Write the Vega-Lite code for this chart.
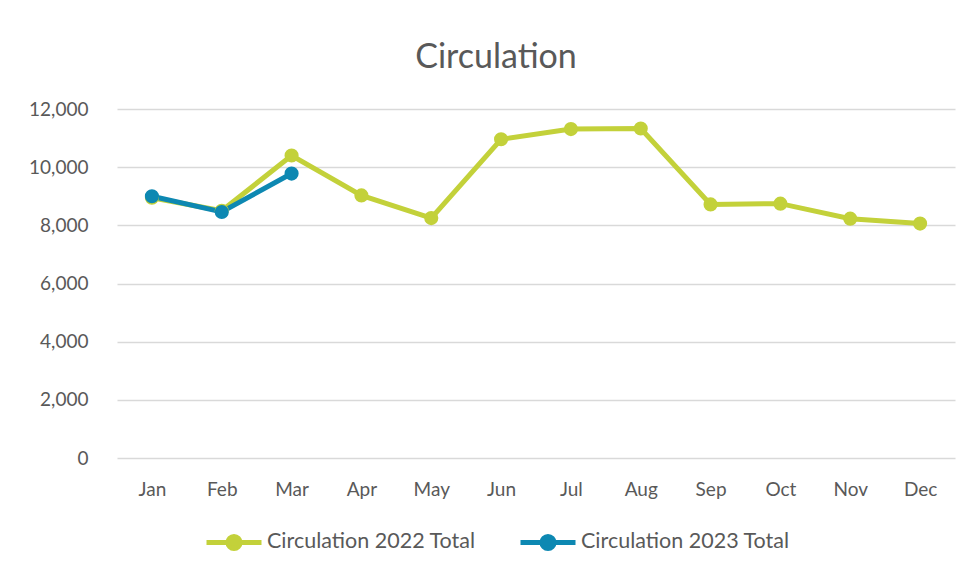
{
  "$schema": "https://vega.github.io/schema/vega-lite/v6.json",
  "width": 838,
  "height": 349,
  "autosize": "none",
  "padding": {"left": 117, "top": 109, "right": 22, "bottom": 116},
  "background": "white",
  "config": {
    "font": "Lato",
    "view": {"stroke": null}
  },
  "title": {
    "text": "Circulation",
    "fontSize": 34,
    "font": "Lato",
    "fontWeight": "normal",
    "color": "#595959",
    "anchor": "middle",
    "dx": -40,
    "offset": -2,
    "baseline": "alphabetic"
  },
  "data": {
    "values": [
      {"month": "Jan", "series": "Circulation 2022 Total", "value": 8950},
      {"month": "Feb", "series": "Circulation 2022 Total", "value": 8500},
      {"month": "Mar", "series": "Circulation 2022 Total", "value": 10400},
      {"month": "Apr", "series": "Circulation 2022 Total", "value": 9030},
      {"month": "May", "series": "Circulation 2022 Total", "value": 8250},
      {"month": "Jun", "series": "Circulation 2022 Total", "value": 10960},
      {"month": "Jul", "series": "Circulation 2022 Total", "value": 11310},
      {"month": "Aug", "series": "Circulation 2022 Total", "value": 11330},
      {"month": "Sep", "series": "Circulation 2022 Total", "value": 8720},
      {"month": "Oct", "series": "Circulation 2022 Total", "value": 8745},
      {"month": "Nov", "series": "Circulation 2022 Total", "value": 8230},
      {"month": "Dec", "series": "Circulation 2022 Total", "value": 8060},
      {"month": "Jan", "series": "Circulation 2023 Total", "value": 9000},
      {"month": "Feb", "series": "Circulation 2023 Total", "value": 8460},
      {"month": "Mar", "series": "Circulation 2023 Total", "value": 9780}
    ]
  },
  "encoding": {
    "x": {
      "field": "month",
      "type": "ordinal",
      "sort": ["Jan","Feb","Mar","Apr","May","Jun","Jul","Aug","Sep","Oct","Nov","Dec"],
      "scale": {"type": "point", "padding": 0.5},
      "axis": {
        "title": null,
        "labelAngle": 0,
        "ticks": false,
        "domain": false,
        "grid": false,
        "labelFontSize": 19,
        "labelColor": "#595959",
        "labelPadding": 22
      }
    },
    "y": {
      "field": "value",
      "type": "quantitative",
      "scale": {"domain": [0, 12000], "nice": false},
      "axis": {
        "title": null,
        "values": [0, 2000, 4000, 6000, 8000, 10000, 12000],
        "format": ",.0f",
        "ticks": false,
        "domain": false,
        "grid": true,
        "gridColor": "#D9D9D9",
        "gridWidth": 1.5,
        "labelFontSize": 19,
        "labelColor": "#595959",
        "labelPadding": 29
      }
    },
    "color": {
      "field": "series",
      "type": "nominal",
      "scale": {
        "domain": ["Circulation 2022 Total", "Circulation 2023 Total"],
        "range": ["#C3D13A", "#0D88B2"]
      },
      "legend": {
        "title": null,
        "orient": "none",
        "direction": "horizontal",
        "legendX": 87,
        "legendY": 403,
        "symbolType": "M-1,0L1,0M0.22,0A0.22,0.22 0 1,1 -0.22,0A0.22,0.22 0 1,1 0.22,0Z",
        "symbolSize": 3025,
        "symbolStrokeWidth": 5,
        "labelFontSize": 21.5,
        "labelLimit": 400,
        "labelColor": "#595959",
        "labelOffset": 3,
        "columnPadding": 34
      }
    }
  },
  "layer": [
    {
      "mark": {"type": "line", "strokeWidth": 5}
    },
    {
      "mark": {"type": "point", "filled": true, "size": 200, "opacity": 1}
    }
  ]
}
